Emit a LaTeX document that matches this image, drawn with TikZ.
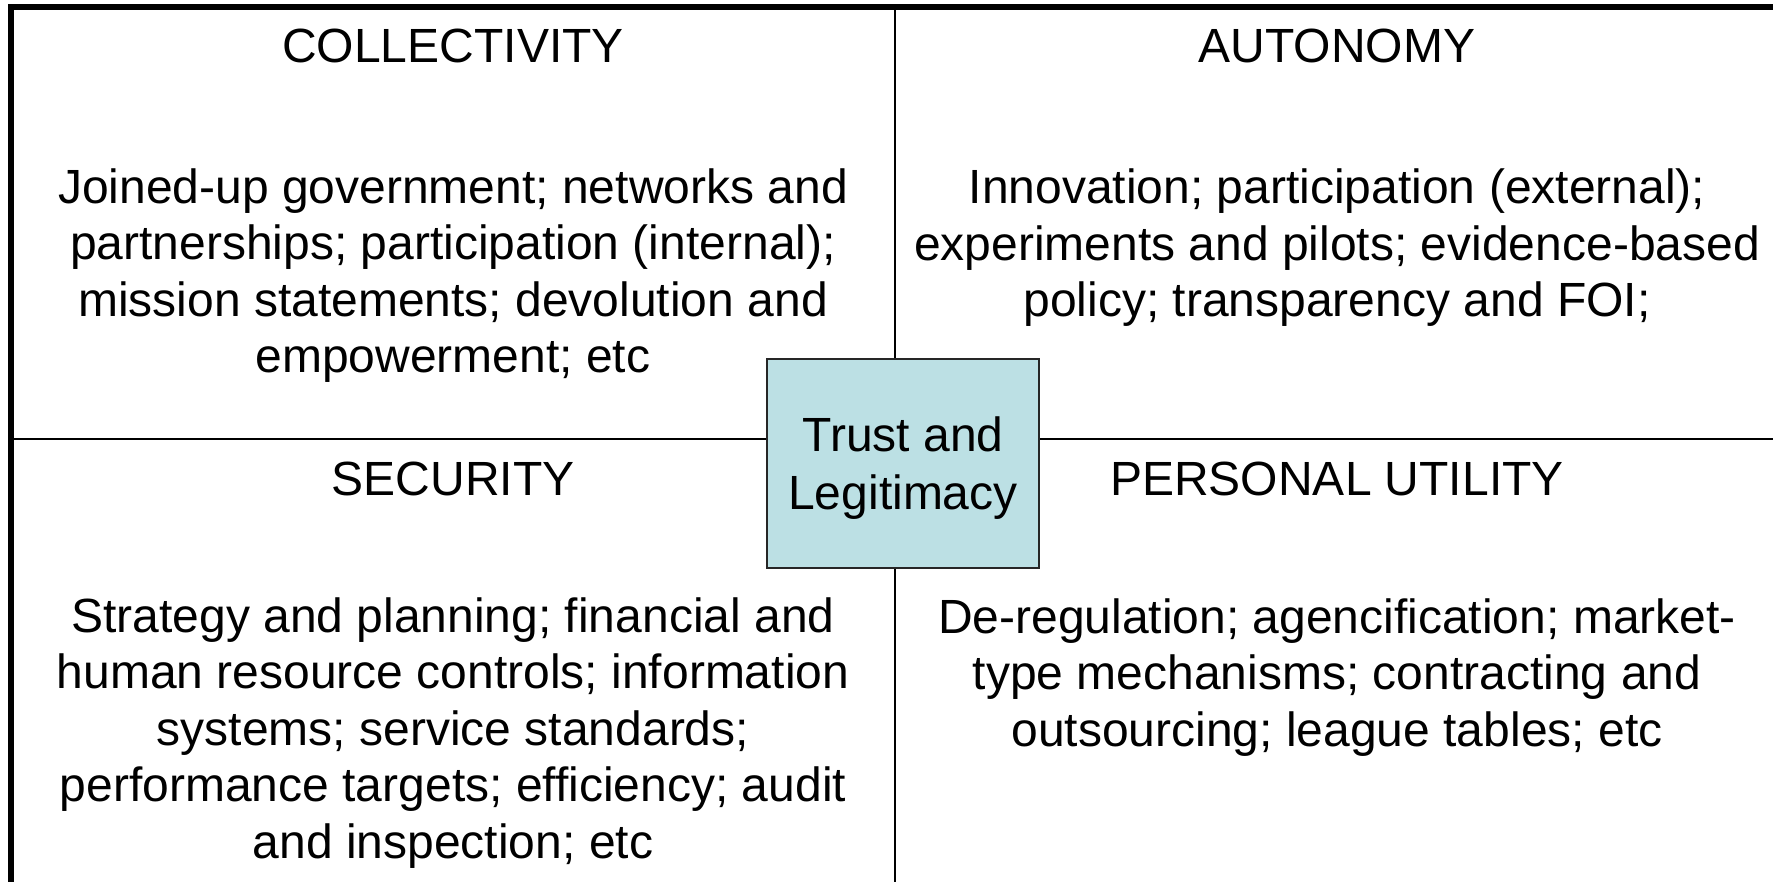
\documentclass[tikz,border=0pt]{standalone}
\usepackage{fontspec}
\setmainfont{Liberation Sans}
\usetikzlibrary{positioning}
\definecolor{trustblue}{HTML}{BCE0E4}

\begin{document}
\begin{tikzpicture}[x=1pt,y=-1pt]
\tikzset{quad title/.style={
    anchor=base,
    inner sep=0pt,
    font=\fontsize{48}{56.5}\selectfont
  },
  quad body/.style={
    anchor=base,
    align=center,
    inner sep=0pt,
    font=\fontsize{48}{56.5}\selectfont
  },
  trust box/.style={
    draw=black!85,
    line width=2pt,
    fill=trustblue,
    minimum width=272pt,
    minimum height=209pt,
    align=center,
    inner sep=0pt,
    text depth=0pt,
    font=\fontsize{48}{58}\selectfont
  }
}

\useasboundingbox (0,0) rectangle (1773,882);
\clip (0,0) rectangle (1773,882);

% outer frame and dividers
\coordinate (frame top) at (11,7);
\coordinate (mid top) at (895,7);
\coordinate (mid bottom) at (895,900);
\coordinate (mid left) at (11,439);
\coordinate (mid right) at (1800,439);
\draw[line width=6pt] (11,900) -- (frame top) -- (1800,7);
\draw[line width=2.5pt] (mid top) -- (mid bottom);
\draw[line width=2.5pt] (mid left) -- (mid right);

\node[trust box] (trust) at (903,463.5) {Trust and\\Legitimacy};

% quadrant titles
\node[quad title] (collectivity) at (453,63) {COLLECTIVITY};
\node[quad title] (autonomy) at (1337,63) {AUTONOMY};
\node[quad title] (security) at (453,495) {SECURITY};
\node[quad title] (utility) at (1337,495) {PERSONAL UTILITY};

% quadrant texts (base = last line)
\node[quad body] (collectivity text) at (453,373) {Joined-up government; networks and\\partnerships; participation (internal);\\mission statements; devolution and\\empowerment; etc};
\node[quad body] (autonomy text) at (1337,317) {Innovation; participation (external);\\experiments and pilots; evidence-based\\policy; transparency and FOI;};
\node[quad body] (security text) at (453,858) {Strategy and planning; financial and\\human resource controls; information\\systems; service standards;\\performance targets; efficiency; audit\\and inspection; etc};
\node[quad body] (utility text) at (1337,746) {De-regulation; agencification; market-\\type mechanisms; contracting and\\outsourcing; league tables; etc};

\end{tikzpicture}
\end{document}
